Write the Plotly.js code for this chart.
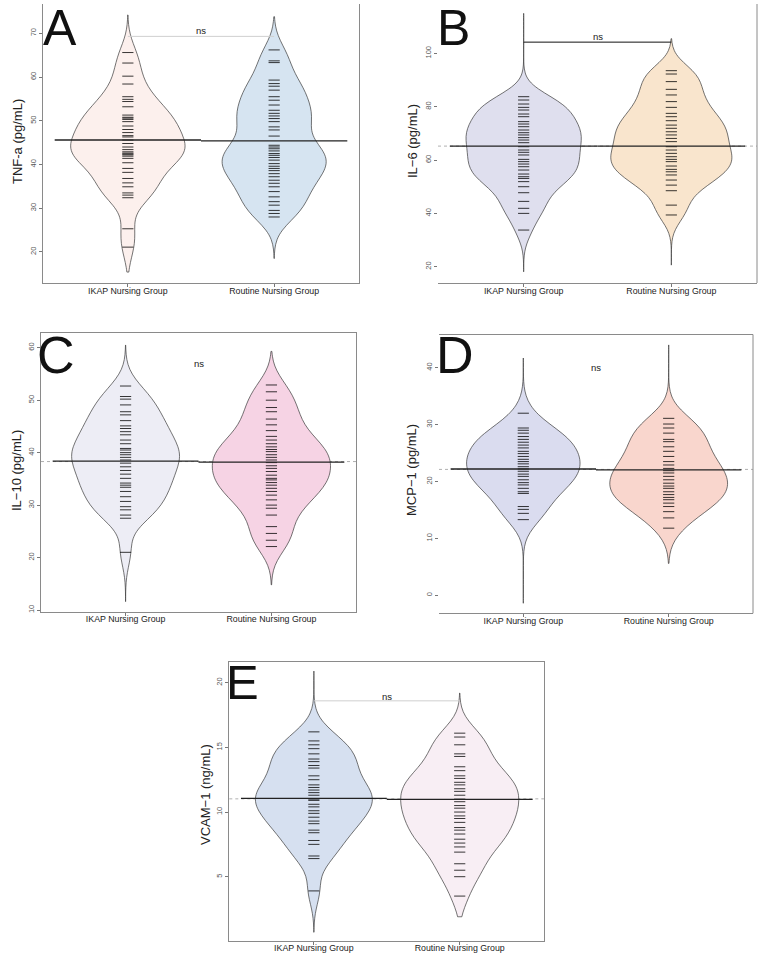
<!DOCTYPE html>
<html><head><meta charset="utf-8">
<script src="https://cdn.plot.ly/plotly-3.0.1.min.js"></script>
<style>html,body{margin:0;padding:0;background:#fff}#chart{width:760px;height:960px}</style>
</head><body><div id="chart"></div>
<script>
// ---------- DATA ----------
const categories = ['IKAP Nursing Group', 'Routine Nursing Group'];
const panelLetters = ['A', 'B', 'C', 'D', 'E'];
const yTitles = ['TNF-a (pg/mL)', 'IL\u22126 (pg/mL)', 'IL\u221210 (pg/mL)', 'MCP\u22121 (pg/mL)', 'VCAM\u22121 (ng/mL)'];
const sigLabels = ['ns', 'ns', 'ns', 'ns', 'ns'];

const tnfIKAP = [65.6, 63.2, 60.2, 58.4, 55.5, 54.9, 54.4, 53.2, 51.3, 50.8, 50.6, 50.3, 49.8, 48.8, 48.0, 47.3, 46.6, 46.3, 45.6, 44.8, 44.0, 43.4, 42.9, 42.6, 42.4, 42.2, 41.9, 41.4, 40.4, 39.1, 38.2, 36.8, 35.8, 34.9, 33.5, 33.0, 32.4, 25.3, 21.1];
const tnfRoutine = [66.2, 63.7, 63.3, 59.3, 58.5, 57.9, 57.0, 55.5, 54.7, 53.6, 52.4, 51.7, 51.1, 50.5, 49.8, 48.6, 47.9, 46.5, 44.4, 44.0, 43.6, 43.1, 42.5, 42.1, 41.6, 41.0, 40.2, 39.6, 39.1, 38.6, 37.9, 37.2, 36.4, 35.7, 34.9, 33.8, 32.6, 31.5, 30.7, 29.5, 28.8, 28.0];
const il6IKAP = [83.75, 82.5, 81, 79.75, 78.75, 77.25, 76.25, 74.4, 73.5, 72.5, 71.25, 70.25, 69.4, 68.4, 67.5, 66.5, 65, 63.75, 62.9, 61.9, 60.25, 59.4, 58.5, 57.5, 56.25, 54.75, 53.75, 53.1, 51.9, 50, 47.75, 44.5, 41.9, 40, 33.75];
const il6Routine = [93.5, 92.25, 89.4, 86.5, 84.4, 81.9, 79.75, 77.5, 76.25, 74.75, 73.1, 71.9, 70.6, 69.4, 68.1, 66.9, 65, 63.75, 62.5, 61.25, 60.25, 59.4, 57.75, 56.5, 55.6, 54.4, 52.5, 50.6, 48.5, 43.1, 39.4];
const il10IKAP = [52.7, 50.7, 50.2, 49.1, 47.8, 47.2, 46.1, 45.1, 44.6, 44.0, 43.4, 42.4, 41.7, 40.8, 40.5, 40.0, 39.6, 39.1, 38.6, 38.0, 37.3, 36.6, 35.9, 35.1, 34.2, 33.8, 33.4, 32.6, 31.6, 30.7, 29.7, 29.1, 28.1, 27.5, 21.0];
const il10Routine = [52.9, 51.6, 50.0, 48.6, 47.8, 46.4, 45.3, 44.2, 43.1, 42.4, 41.7, 41.1, 40.6, 40.2, 39.6, 39.1, 38.6, 38.1, 37.5, 37.0, 36.4, 35.7, 35.1, 34.8, 34.3, 33.8, 33.2, 32.6, 31.9, 31.0, 30.0, 29.4, 28.1, 25.9, 24.6, 23.3, 22.1];
const mcpIKAP = [32.0, 29.4, 29.0, 28.5, 27.9, 27.4, 26.9, 26.4, 25.9, 25.3, 24.9, 24.4, 23.9, 23.5, 23.1, 22.6, 22.2, 21.8, 21.3, 20.9, 20.3, 19.8, 19.4, 18.8, 18.2, 17.9, 15.6, 15.1, 14.4, 13.3];
const mcpRoutine = [31.1, 30.1, 29.4, 28.5, 27.4, 27.0, 26.1, 25.3, 24.4, 23.5, 22.9, 22.3, 21.9, 21.5, 20.9, 20.3, 19.7, 19.2, 18.8, 18.2, 17.7, 17.2, 16.8, 16.2, 15.6, 14.7, 13.6, 11.8];
const vcamIKAP = [16.2, 15.5, 15.2, 14.9, 14.5, 14.1, 13.9, 13.6, 13.4, 12.8, 12.5, 12.1, 11.9, 11.7, 11.5, 11.3, 11.0, 10.9, 10.6, 10.4, 10.1, 9.9, 9.6, 9.3, 9.1, 8.6, 8.4, 7.8, 7.5, 6.6, 6.4, 3.9];
const vcamRoutine = [16.1, 15.8, 15.2, 14.5, 14.3, 13.5, 13.2, 12.8, 12.6, 12.3, 12.1, 11.8, 11.6, 11.3, 11.0, 10.8, 10.5, 10.3, 10.0, 9.7, 9.5, 9.2, 8.8, 8.6, 8.3, 7.9, 7.6, 7.3, 6.9, 6.0, 5.5, 5.0, 3.5];

// group means (bean lines)
const tnfMeans = [45.6, 45.4];
const il6Means = [65.25, 65.2];
const il10Means = [38.4, 38.2];
const mcpMeans = [22.2, 22.05];
const vcamMeans = [11.06, 10.98];

// extent of each bean's thin tails
const tnfTails = [[15.4, 74.2], [18.5, 73.8]];
const il6Tails = [[18.1, 115], [20.6, 105.5]];
const il10Tails = [[11.6, 60.5], [14.8, 59.3]];
const mcpTails = [[-1.4, 41.7], [5.6, 44.0]];
const vcamTails = [[0.7, 20.9], [1.9, 19.2]];

// significance bracket heights and label heights
const bracketY = [69.3, 104.2, null, null, 18.6];
const nsY = [70.6, 106.2, 56.9, 40.0, 18.95];

const seriesData = [[tnfIKAP, tnfRoutine], [il6IKAP, il6Routine], [il10IKAP, il10Routine], [mcpIKAP, mcpRoutine], [vcamIKAP, vcamRoutine]];
const seriesMeans = [tnfMeans, il6Means, il10Means, mcpMeans, vcamMeans];
const seriesTails = [tnfTails, il6Tails, il10Tails, mcpTails, vcamTails];

// ---------- LAYOUT / STYLE ----------
const W = 760, H = 960;
const cfg = [
  {box: [43, 4, 359, 283], range: [12.9, 76.7], dtick: 10, fills: ['#fcf0ed', '#d6e4f1'], bw: 3.3, widths: [0.78, 0.71], frame: {l: true, b: true, r: true, t: false}, overall: false, letter: [60, 28, 50], title: [17, 142], bracket: '#cfcfcf'},
  {box: [438, 4, 757, 283], range: [13.9, 118.5], dtick: 20, fills: ['#dfdfee', '#f9e5cd'], bw: 4.5, widths: [0.78, 0.82], frame: {l: false, b: true, r: true, t: false}, overall: true, letter: [453, 28, 50], title: [413, 141], bracket: '#111'},
  {box: [41, 333.3, 356, 611.7], range: [9.68, 62.75], dtick: 10, fills: ['#ededf5', '#f6d3e4'], bw: 2.8, widths: [0.74, 0.81], frame: {l: true, b: true, r: true, t: true}, overall: true, letter: [56.5, 355, 52], title: [16, 471], bracket: '#ccc'},
  {box: [439, 334.5, 753, 613.3], range: [-3.16, 45.83], dtick: 10, fills: ['#dadcef', '#f9d6cd'], bw: 2.5, widths: [0.78, 0.81], frame: {l: false, b: true, r: true, t: true}, overall: true, letter: [455, 354.5, 52], title: [412, 470], bracket: '#ccc'},
  {box: [229.3, 662.3, 544.3, 940.7], range: [0.05, 21.58], dtick: 5, fills: ['#d6e0f0', '#f8eef4'], bw: 1.1, widths: [0.80, 0.81], frame: {l: true, b: true, r: true, t: true}, overall: true, letter: [242, 682, 49], title: [205, 795], bracket: '#cfcfcf'}
];
const xRange = [-0.58, 1.58];
const FONT = 'Liberation Sans, Arial, sans-serif';
const frameColor = '#8a8a8a';

const traces = [];
const layout = {
  width: W, height: H, margin: {l: 0, r: 0, t: 0, b: 0},
  paper_bgcolor: '#fff', plot_bgcolor: 'rgba(0,0,0,0)',
  showlegend: false, violinmode: 'overlay',
  font: {family: FONT, color: '#222'},
  annotations: [], shapes: []
};

cfg.forEach((c, p) => {
  const sfx = p === 0 ? '' : String(p + 1);
  const xa = 'x' + sfx, ya = 'y' + sfx;
  const [x0, y0, x1, y1] = c.box;
  layout['xaxis' + sfx] = {
    domain: [x0 / W, x1 / W], range: xRange, anchor: ya,
    tickvals: [0, 1], ticktext: categories,
    ticks: 'outside', ticklen: 3, tickcolor: '#777', ticklabelstandoff: -4,
    tickfont: {size: 8.8, color: '#222', family: FONT},
    showline: c.frame.b, linecolor: frameColor, linewidth: 1,
    mirror: c.frame.t ? true : false,
    showgrid: false, zeroline: false, fixedrange: true
  };
  layout['yaxis' + sfx] = {
    domain: [1 - y1 / H, 1 - y0 / H], range: c.range, anchor: xa,
    dtick: c.dtick, tick0: 0, ticks: 'outside', ticklen: 3, tickcolor: '#777',
    tickangle: -90, tickfont: {size: 7.5, color: '#555', family: FONT},
    showline: c.frame.l, linecolor: frameColor, linewidth: 1,
    mirror: (c.frame.l && c.frame.r) ? true : false,
    showgrid: false, zeroline: false, fixedrange: true
  };
  if (c.frame.r && !c.frame.l) {
    layout.shapes.push({type: 'line', xref: xa + ' domain', yref: ya + ' domain', x0: 1, x1: 1, y0: 0, y1: 1, line: {color: frameColor, width: 1}});
  }
  const means = seriesMeans[p];
  if (c.overall) {
    const overall = (means[0] + means[1]) / 2;
    layout.shapes.push({type: 'line', xref: xa + ' domain', yref: ya, x0: 0, x1: 1, y0: overall, y1: overall, layer: 'below', line: {color: '#b0b0b0', width: 1, dash: 'dot'}});
  }

  seriesData[p].forEach((vals, g) => {
    traces.push({
      type: 'violin', x0: g, y: vals, xaxis: xa, yaxis: ya,
      bandwidth: c.bw, spanmode: 'manual', span: seriesTails[p][g],
      scalemode: 'width', width: c.widths[g], side: 'both',
      fillcolor: c.fills[g], line: {color: '#3a3a3a', width: 0.7},
      points: 'all', pointpos: 0, jitter: 0,
      marker: {symbol: 'line-ew', size: 8, color: '#000', line: {width: 1, color: 'rgba(0,0,0,0.78)'}},
      box: {visible: false}, meanline: {visible: false},
      hoverinfo: 'skip', showlegend: false
    });
  });
  means.forEach((m, g) => {
    traces.push({type: 'scatter', mode: 'lines', x: [g - 0.5, g + 0.5], y: [m, m], xaxis: xa, yaxis: ya,
      line: {color: '#222', width: 1.3}, hoverinfo: 'skip', showlegend: false});
  });
  if (bracketY[p] !== null) {
    traces.push({type: 'scatter', mode: 'lines', x: [0, 1], y: [bracketY[p], bracketY[p]], xaxis: xa, yaxis: ya,
      line: {color: c.bracket, width: 1}, hoverinfo: 'skip', showlegend: false});
  }
  layout.annotations.push({xref: xa, yref: ya, x: 0.5, y: nsY[p], text: sigLabels[p], showarrow: false,
    xanchor: 'center', yanchor: 'middle', font: {size: 9.5, color: '#222', family: FONT}});
  layout.annotations.push({xref: 'paper', yref: 'paper', x: c.letter[0] / W, y: 1 - c.letter[1] / H,
    text: panelLetters[p], showarrow: false, xanchor: 'center', yanchor: 'middle',
    font: {size: c.letter[2], color: '#111', family: FONT}});
  layout.annotations.push({xref: 'paper', yref: 'paper', x: c.title[0] / W, y: 1 - c.title[1] / H,
    text: yTitles[p], showarrow: false, textangle: -90, xanchor: 'center', yanchor: 'middle',
    font: {size: 13, color: '#222', family: FONT}});
});

Plotly.newPlot('chart', traces, layout, {staticPlot: true, displayModeBar: false});
</script></body></html>
